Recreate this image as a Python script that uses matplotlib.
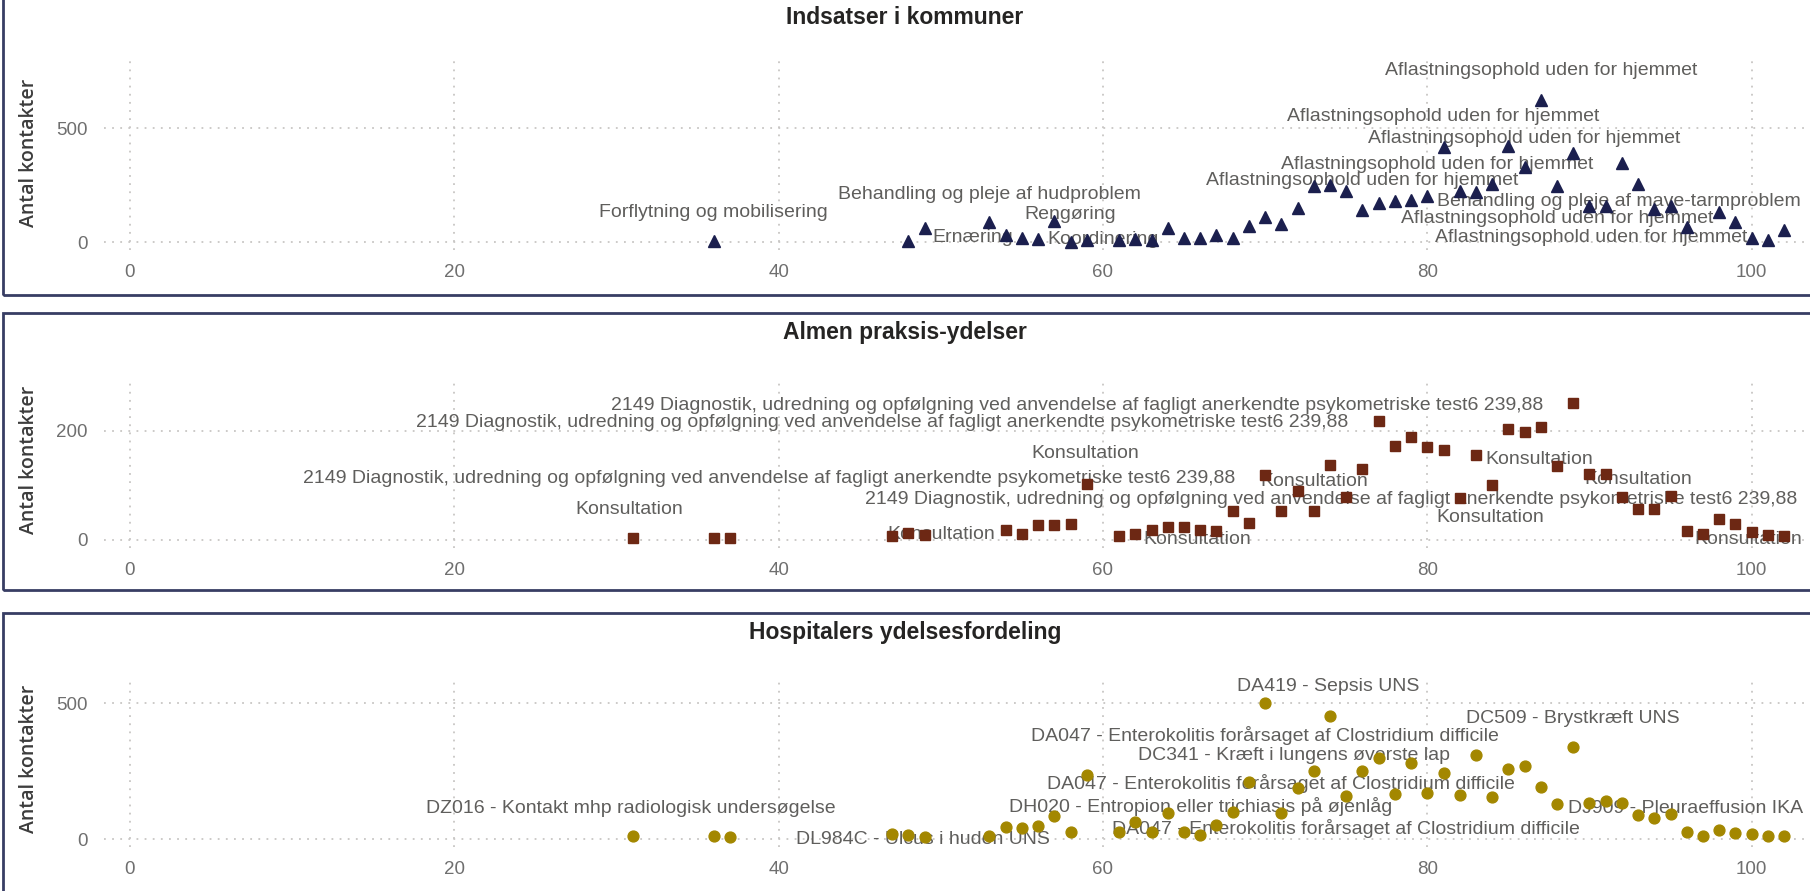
import matplotlib.pyplot as plt
from matplotlib.patches import Rectangle

# --- data -------------------------------------------------------------
kom_age = [36, 48, 49, 53, 54, 55, 56, 57, 58, 59, 61, 62, 63, 64, 65, 66, 67, 68,
           69, 70, 71, 72, 73, 74, 75, 76, 77, 78, 79, 80, 81, 82, 83, 84, 85, 86,
           87, 88, 89, 90, 91, 92, 93, 94, 95, 96, 98, 99, 100, 101, 102]
kom_cnt = [5, 5, 62, 87, 33, 18, 13, 94, 3, 10, 10, 13, 8, 62, 20, 20, 32, 20,
           70, 111, 80, 150, 245, 252, 225, 141, 174, 181, 184, 205, 420, 223, 221, 254, 424, 329,
           626, 245, 390, 160, 160, 350, 254, 147, 160, 66, 133, 87, 18, 12, 54]

alm_age = [31, 36, 37, 47, 48, 49, 54, 55, 56, 57, 58, 59, 61, 62, 63, 64, 65, 66,
           67, 68, 69, 70, 71, 72, 73, 74, 75, 76, 77, 78, 79, 80, 81, 82, 83, 84,
           85, 86, 87, 88, 89, 90, 91, 92, 93, 94, 95, 96, 97, 98, 99, 100, 101, 102]
alm_cnt = [4, 4, 4, 8, 12, 9, 18, 11, 27, 27, 29, 103, 8, 11, 18, 24, 23, 18,
           17, 53, 31, 119, 53, 89, 53, 138, 79, 130, 219, 173, 188, 170, 165, 77, 156, 101,
           203, 198, 207, 135, 251, 121, 121, 79, 56, 56, 81, 17, 11, 38, 29, 15, 9, 8]

hos_age = [31, 36, 37, 47, 48, 49, 53, 54, 55, 56, 57, 58, 59, 61, 62, 63, 64, 65,
           66, 67, 68, 69, 70, 71, 72, 73, 74, 75, 76, 77, 78, 79, 80, 81, 82, 83,
           84, 85, 86, 87, 88, 89, 90, 91, 92, 93, 94, 95, 96, 97, 98, 99, 100, 101, 102]
hos_cnt = [13, 13, 10, 19, 16, 10, 13, 44, 40, 50, 87, 28, 236, 28, 65, 28, 98, 28,
           15, 53, 101, 212, 500, 98, 187, 252, 455, 160, 252, 298, 167, 282, 171, 243, 163, 310,
           154, 257, 269, 193, 131, 340, 135, 142, 132, 89, 80, 94, 26, 13, 34, 24, 19, 13, 13]

AFL = "Aflastningsophold uden for hjemmet"
kom_labels = ["Forflytning og mobilisering", "Behandling og pleje af hudproblem", "Ernæring",
              "Rengøring", "Koordinering", AFL, AFL, AFL, AFL, AFL,
              "Behandling og pleje af mave-tarmproblem", AFL, AFL]
kom_lab_x = [36, 53, 52, 58, 60, 87, 81, 86, 80.6, 76, 91.8, 88, 90.1]
kom_lab_y = [132, 210, 20, 123, 14, 756, 551, 456, 343, 269, 178, 105, 20]

DIAG = ("2149 Diagnostik, udredning og opfølgning ved anvendelse af fagligt "
        "anerkendte psykometriske test6 239,88")
KONS = "Konsultation"
alm_labels = [DIAG, DIAG, DIAG, DIAG, KONS, KONS, KONS, KONS, KONS, KONS, KONS, KONS, KONS]
alm_lab_x = [58.4, 46.4, 39.4, 74.1, 30.8, 50, 58.9, 65.8, 73.0, 83.9, 86.9, 93.0, 99.8]
alm_lab_y = [246, 215, 113, 75, 55, 10, 158, 0, 107, 42, 147, 110, 0]

ENT = "DA047 - Enterokolitis forårsaget af Clostridium difficile"
hos_labels = ["DZ016 - Kontakt mhp radiologisk undersøgelse", "DL984C - Ulcus i huden UNS",
              "DA419 - Sepsis UNS", "DC509 - Brystkræft UNS", ENT,
              "DC341 - Kræft i lungens øverste lap", ENT,
              "DH020 - Entropion eller trichiasis på øjenlåg", ENT,
              "DJ909 - Pleuraeffusion IKA"]
hos_lab_x = [30.9, 48.9, 73.9, 89.0, 70.0, 71.8, 71.0, 66.0, 75.0, 95.9]
hos_lab_y = [114, 0, 561, 445, 381, 307, 206, 120, 40, 114]

# --- layout -----------------------------------------------------------
W, H = 1810, 891
fig = plt.figure(figsize=(W / 100, H / 100), dpi=100)
fig.patch.set_facecolor("white")

FONT = ["Liberation Sans", "DejaVu Sans"]
LABEL_C = "#5f5e5c"
TICK_C = "#6f6f6f"
BORDER_C = "#383d64"


def px_axes(left, top, right, bottom):
    return fig.add_axes([left / W, 1 - bottom / H, (right - left) / W, (bottom - top) / H])


panels = [
    dict(title="Indsatser i kommuner", x=kom_age, y=kom_cnt, marker="^", ms=8,
         color="#1b1f4e", labels=kom_labels, lx=kom_lab_x, ly=kom_lab_y,
         box=(3, -10, 1830, 295), title_y=17, ax=(60, 250), ylim=(-34, 800),
         yticks=[0, 500], ylabel_y=153),
    dict(title="Almen praksis-ydelser", x=alm_age, y=alm_cnt, marker="s", ms=7.2,
         color="#6d2814", labels=alm_labels, lx=alm_lab_x, ly=alm_lab_y,
         box=(3, 313, 1830, 590), title_y=332, ax=(378, 548), ylim=(-14.7, 297),
         yticks=[0, 200], ylabel_y=460),
    dict(title="Hospitalers ydelsesfordeling", x=hos_age, y=hos_cnt, marker="o", ms=7.8,
         color="#a38700", labels=hos_labels, lx=hos_lab_x, ly=hos_lab_y,
         box=(3, 613, 1830, 905), title_y=632, ax=(678, 847), ylim=(-28, 593),
         yticks=[0, 500], ylabel_y=759),
]

for p in panels:
    l, t, r, b = p["box"]
    fig.patches.append(Rectangle((l / W, 1 - b / H), (r - l) / W, (b - t) / H,
                                 transform=fig.transFigure, fill=False,
                                 edgecolor=BORDER_C, linewidth=2.0))
    fig.text(0.5, 1 - p["title_y"] / H, p["title"], ha="center", va="center",
             fontsize=16.5, fontweight="bold", color="#252423", family=FONT)
    fig.text(29 / W, 1 - p["ylabel_y"] / H, "Antal kontakter", rotation=90,
             ha="center", va="center", fontsize=14, color="#3c3c3c",
             fontweight="semibold", family=["Open Sans", "DejaVu Sans"])

    ax = px_axes(104, p["ax"][0], W, p["ax"][1])
    ax.set_xlim(-1.6, 103.6)
    ax.set_ylim(*p["ylim"])
    ax.set_xticks(range(0, 101, 20))
    ax.set_yticks(p["yticks"])
    for s in ax.spines.values():
        s.set_visible(False)
    ax.grid(True, color="#c8c6c4", linestyle=(0, (1, 3.5)), linewidth=1.3)
    ax.set_axisbelow(True)
    ax.tick_params(length=0, labelsize=13.5, labelcolor=TICK_C)
    ax.tick_params(axis="x", pad=10)
    ax.tick_params(axis="y", pad=12)
    for lab in ax.get_xticklabels() + ax.get_yticklabels():
        lab.set_family(FONT)

    ax.plot(p["x"], p["y"], linestyle="none", marker=p["marker"], markersize=p["ms"],
            color=p["color"], zorder=3, clip_on=False)
    for txt, lx, ly in zip(p["labels"], p["lx"], p["ly"]):
        ax.text(lx, ly, txt, ha="center", va="center", fontsize=14, color=LABEL_C,
                family=FONT, zorder=2, clip_on=False)

fig.savefig("out.png", dpi=100, facecolor="white")
